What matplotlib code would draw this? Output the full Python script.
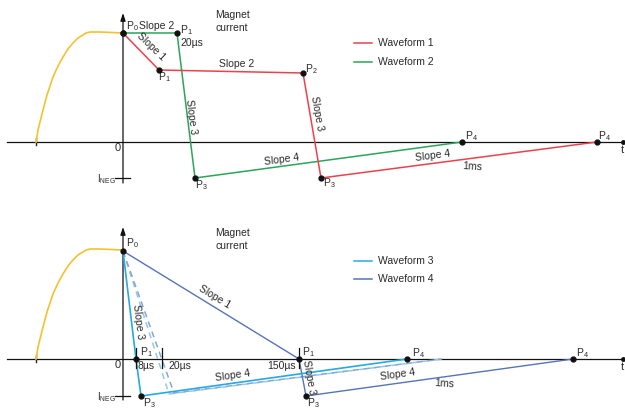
import matplotlib.pyplot as plt
import numpy as np

plt.rcParams['font.family'] = ['Liberation Sans', 'DejaVu Sans']
plt.rcParams['mathtext.fontset'] = 'custom'
plt.rcParams['mathtext.rm'] = 'Liberation Sans'
plt.rcParams['mathtext.it'] = 'Liberation Sans'

# diagram units: t to the right of the current axis, i above the time axis
ramp_t = [-87, -85, -80, -76, -70, -65, -60, -55, -50, -45, -40, -37, -33, -23, 0]
ramp_i = [0, 12, 32, 47, 65, 76, 85, 93, 99, 104, 107, 109, 110, 110, 109]

# top panel
wf1_t = [0, 36, 180, 198, 474]
wf1_i = [109, 72, 69, -36, 0]
wf2_t = [0, 54, 72, 339]
wf2_i = [109, 109, -36, 0]

# bottom panel
wf3_t = [0, 13, 18, 284]
wf3_i = [108, 0, -37, 0]
wf3_slow_t = [0, 46, 319]
wf3_slow_i = [108, -35, 0]
wf4_slow_t = [0, 51, 319]
wf4_slow_i = [108, -34, 0]
wf4_t = [0, 176, 183, 450]
wf4_i = [108, 0, -37, 0]

RED = '#e9424e'
GREEN = '#2aa55a'
CYAN = '#27a9e1'
BLUE = '#5674b9'
DASH = '#8ba6d0'
YELLOW = '#f3c22f'
TXT = '#2a2a2a'
FS = 7.5

fig = plt.figure(figsize=(6.25, 4.09), dpi=100)
ax_top = fig.add_axes([0, 1 - 204 / 409, 1, 204 / 409])
ax_bot = fig.add_axes([0, 0, 1, 205 / 409])
ax_top.set_xlim(-123, 502)
ax_top.set_ylim(-62, 142)
ax_bot.set_xlim(-123, 502)
ax_bot.set_ylim(-50, 155)


def label(ax, t, i, s, ha='left', rot=0, size=FS):
    ax.text(t, i, s, ha=ha, va='center', rotation=rot, rotation_mode='anchor',
            fontsize=size, color=TXT)


def axes_frame(ax, i_top, i_neg):
    ax.plot([-116, 500], [0, 0], color='#111111', lw=0.9, zorder=2)
    ax.plot([500], [0], 'o', color='#111111', ms=2.5, zorder=2)
    ax.annotate('', xy=(0, i_top), xytext=(0, -41),
                arrowprops=dict(arrowstyle='-|>,head_length=0.45,head_width=0.15',
                                color='#111111', lw=0.9, shrinkA=0, shrinkB=0))
    ax.plot([-8, 7], [i_neg, i_neg], color='#111111', lw=0.9)
    ax.plot(ramp_t, ramp_i, color=YELLOW, lw=1.2, zorder=3)
    ax.plot([-87, -87], [-3, 4], color='#222222', lw=1.0)
    label(ax, -5, -6, '0', ha='center', size=8)
    label(ax, 499, -8, 't', ha='center', size=8)
    label(ax, -7, i_neg - 1, r'I$_{\mathrm{NEG}}$', ha='right', size=7)
    ax.axis('off')


def dots(ax, ts, iss):
    ax.plot(ts, iss, 'o', color='#111111', ms=3.5, zorder=5, lw=0)


# ---- top: waveforms 1 and 2
axes_frame(ax_top, 129, -36)
ax_top.plot(wf2_t, wf2_i, color=GREEN, lw=1.1, zorder=3)
ax_top.plot(wf1_t, wf1_i, color=RED, lw=1.1, zorder=3)
dots(ax_top, wf1_t, wf1_i)
dots(ax_top, wf2_t, wf2_i)

label(ax_top, 109, 127, 'Magnet', ha='center')
label(ax_top, 109, 114, 'current', ha='center')
label(ax_top, 3, 116, r'P$_0$')
label(ax_top, 34, 116, 'Slope 2', ha='center')
label(ax_top, 57, 112, r'P$_1$')
label(ax_top, 57, 99, '20µs')
label(ax_top, 28, 95, 'Slope 1', ha='center', rot=-44)
label(ax_top, 35, 65, r'P$_1$')
label(ax_top, 114, 78, 'Slope 2', ha='center')
label(ax_top, 182, 73, r'P$_2$')
label(ax_top, 68, 25, 'Slope 3', ha='center', rot=-83)
label(ax_top, 194, 29, 'Slope 3', ha='center', rot=-80)
label(ax_top, 159, -18, 'Slope 4', ha='center', rot=7.7)
label(ax_top, 72, -43, r'P$_3$')
label(ax_top, 200, -41, r'P$_3$')
label(ax_top, 342, 6, r'P$_4$')
label(ax_top, 475, 6, r'P$_4$')
label(ax_top, 310, -14, 'Slope 4', ha='center', rot=7.4)
label(ax_top, 349, -25, '1ms', ha='center', rot=-4)

for yy, col, name in [(99, RED, 'Waveform 1'), (80, GREEN, 'Waveform 2')]:
    ax_top.plot([231, 249], [yy, yy], color=col, lw=1.1)
    label(ax_top, 255, yy, name)

# ---- bottom: waveforms 3 and 4
axes_frame(ax_bot, 132, -37)
ax_bot.plot(wf3_slow_t, wf3_slow_i, color='#8fcbe8', lw=1.1, ls=(0, (4, 3)), zorder=3)
ax_bot.plot(wf4_slow_t, wf4_slow_i, color=DASH, lw=1.1, ls=(0, (4, 3)), zorder=3)
ax_bot.plot(wf4_t, wf4_i, color=BLUE, lw=1.0, zorder=3)
ax_bot.plot(wf3_t, wf3_i, color=CYAN, lw=1.2, zorder=3)
dots(ax_bot, [0, 13, 18, 284], [108, 0, -37, 0])
dots(ax_bot, [176, 183, 450], [0, -37, 0])

for tt in [13, 39, 176]:
    ax_bot.plot([tt, tt], [-9, 11], color='#111111', lw=0.9, zorder=4)

label(ax_bot, 109, 126, 'Magnet', ha='center')
label(ax_bot, 109, 113, 'current', ha='center')
label(ax_bot, 3, 116, r'P$_0$')
label(ax_bot, 15, 37, 'Slope 3', ha='center', rot=-83)
label(ax_bot, 92, 62, 'Slope 1', ha='center', rot=-31.5)
label(ax_bot, 17, 7, r'P$_1$')
label(ax_bot, 15, -7, '8µs')
label(ax_bot, 45, -7, '20µs')
label(ax_bot, 173, -7, '150µs', ha='right')
label(ax_bot, 179, 7, r'P$_1$')
label(ax_bot, 186, -18, 'Slope 3', ha='center', rot=-80)
label(ax_bot, 110, -17, 'Slope 4', ha='center', rot=8)
label(ax_bot, 20, -44, r'P$_3$')
label(ax_bot, 184, -44, r'P$_3$')
label(ax_bot, 289, 6, r'P$_4$')
label(ax_bot, 453, 6, r'P$_4$')
label(ax_bot, 275, -16, 'Slope 4', ha='center', rot=8)
label(ax_bot, 321, -25, '1ms', ha='center', rot=-4)

for yy, col, name in [(98, CYAN, 'Waveform 3'), (80, BLUE, 'Waveform 4')]:
    ax_bot.plot([231, 249], [yy, yy], color=col, lw=1.1)
    label(ax_bot, 255, yy, name)

fig.savefig('out.png', dpi=100, facecolor='white')
